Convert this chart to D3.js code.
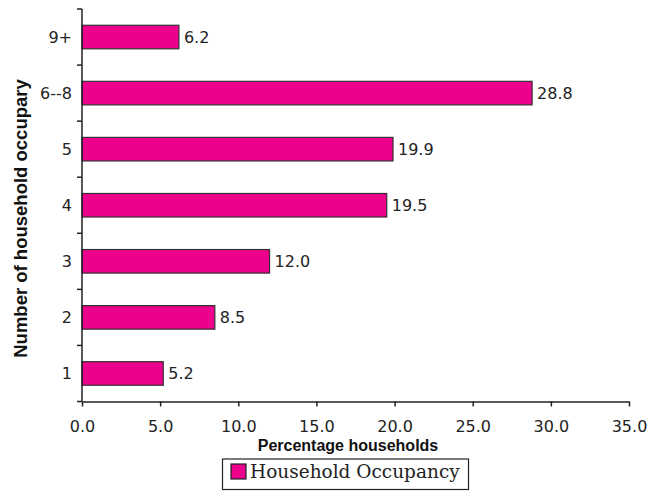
<!DOCTYPE html>
<html><head><meta charset="utf-8">
<script src="https://cdn.jsdelivr.net/npm/d3@7"></script>
<style>body{margin:0;background:#fff}</style>
</head><body><svg id="c" width="653" height="491"></svg>
<script>
const categories = ["9+", "6--8", "5", "4", "3", "2", "1"];
const values = [6.2, 28.8, 19.9, 19.5, 12.0, 8.5, 5.2];
const xTicks = [0, 5, 10, 15, 20, 25, 30, 35];
const seriesName = "Household Occupancy";
const xTitle = "Percentage households";
const yTitle = "Number of household occupary";

const svg = d3.select("#c");
const m = {left: 82, right: 629, top: 9, bottom: 401.5};
const x = d3.scaleLinear().domain([0, 35]).range([m.left, m.right]);
const y = d3.scaleBand().domain(categories).range([m.top, m.bottom]).paddingInner(0.58).paddingOuter(0.29);
const yTickScale = d3.scaleBand().domain(categories).range([m.top, m.bottom]);
const color = "#EC008C";
const fontNum = "'DejaVu Sans', sans-serif";
const fontBold = "'Liberation Sans', Arial, sans-serif";

// bars
svg.selectAll("rect.bar").data(values).join("rect")
  .attr("x", x(0)).attr("y", (d,i)=>y(categories[i]))
  .attr("width", d=>x(d)-x(0)).attr("height", y.bandwidth())
  .attr("fill", color).attr("stroke", "#333").attr("stroke-width", 1.2);

// value labels
svg.selectAll("text.val").data(values).join("text")
  .attr("x", d=>x(d)+5).attr("y", (d,i)=>y(categories[i])+y.bandwidth()/2)
  .attr("dy", "0.35em").attr("font-family", fontNum).attr("font-size", 16).attr("fill", "#222")
  .text(d=>d.toFixed(1));

// x axis
const xAxis = d3.axisBottom(x).tickValues(xTicks).tickFormat(d=>d.toFixed(1)).tickSize(5).tickSizeOuter(0);
const gx = svg.append("g").attr("transform", `translate(0,${m.bottom})`).call(xAxis);
gx.select(".domain").attr("stroke", "#222").attr("stroke-width", 1.5);
gx.selectAll(".tick line").attr("stroke", "#222").attr("stroke-width", 1.5);
gx.selectAll(".tick text").attr("font-family", fontNum).attr("font-size", 16).attr("fill", "#222").attr("y", 30).attr("dy", 0);

// y axis (ticks at band boundaries)
const gy = svg.append("g").attr("transform", `translate(${m.left},0)`);
gy.append("line").attr("x1",0).attr("x2",0).attr("y1",m.top).attr("y2",m.bottom).attr("stroke","#222").attr("stroke-width",1.5);
const bounds = categories.map(c=>yTickScale(c)).concat([m.bottom]);
gy.selectAll("line.tk").data(bounds).join("line").attr("class","tk")
  .attr("x1",-5).attr("x2",0).attr("y1",d=>d).attr("y2",d=>d).attr("stroke","#222").attr("stroke-width",1.5);
gy.selectAll("text.cat").data(categories).join("text")
  .attr("x",-10).attr("y",d=>y(d)+y.bandwidth()/2).attr("dy","0.35em")
  .attr("text-anchor","end").attr("font-family",fontNum).attr("font-size",16).attr("fill","#222").text(d=>d);

// titles
svg.append("text").attr("x", 348).attr("y", 451).attr("text-anchor","middle")
  .style("font-family",fontBold).style("font-weight","700").style("font-size","16px").attr("fill","#111").text(xTitle);
svg.append("text").attr("transform","translate(26.5,218.5) rotate(-90)").attr("text-anchor","middle")
  .style("font-family",fontBold).style("font-weight","700").style("font-size","18.5px").attr("fill","#111").text(yTitle);

// legend
const lg = svg.append("g");
lg.append("rect").attr("x",222.5).attr("y",459).attr("width",246).attr("height",30.5).attr("fill","#fff").attr("stroke","#222").attr("stroke-width",1.2);
lg.append("rect").attr("x",231).attr("y",464).attr("width",15).attr("height",15).attr("fill",color).attr("stroke","#222").attr("stroke-width",1.2);
lg.append("text").attr("x",250).attr("y",478).attr("font-family","'DejaVu Serif', serif").attr("font-size",18.5).attr("fill","#222").text(seriesName);
</script></body></html>
